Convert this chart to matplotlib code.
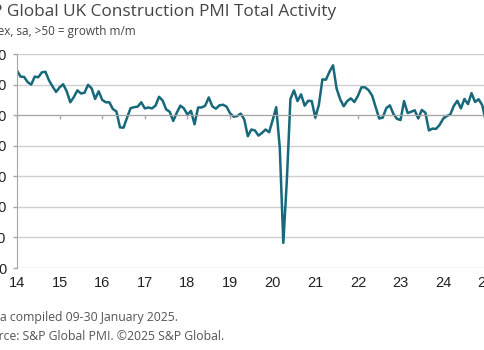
import matplotlib.pyplot as plt
import numpy as np

# monthly index values, Jan 2014 .. Jan 2025
pmi_2014 = [64.6, 62.6, 62.5, 60.8, 60.0, 62.6, 62.4, 64.0, 64.2, 61.4, 59.4, 57.6]
pmi_2015 = [59.1, 60.1, 57.8, 54.2, 55.9, 58.1, 57.1, 57.3, 59.9, 58.8, 55.3, 57.8]
pmi_2016 = [55.0, 54.2, 54.2, 52.0, 51.2, 46.0, 45.9, 49.2, 52.3, 52.6, 52.8, 54.2]
pmi_2017 = [52.2, 52.5, 52.2, 53.1, 56.0, 54.8, 51.9, 51.1, 48.1, 50.8, 53.1, 52.2]
pmi_2018 = [50.2, 51.4, 47.0, 52.5, 52.5, 53.1, 55.8, 52.9, 52.1, 53.2, 53.4, 52.8]
pmi_2019 = [50.6, 49.5, 49.7, 50.5, 48.6, 43.1, 45.3, 45.0, 43.3, 44.2, 45.3, 44.4]
pmi_2020 = [48.4, 52.6, 39.3, 8.2, 28.9, 55.3, 58.1, 54.6, 56.8, 53.1, 54.7, 54.6]
pmi_2021 = [49.2, 53.3, 61.7, 61.6, 64.2, 66.3, 58.7, 55.2, 52.9, 54.6, 55.5, 54.3]
pmi_2022 = [56.3, 59.1, 59.1, 58.2, 56.4, 52.6, 48.9, 49.2, 52.3, 53.2, 50.4, 48.8]
pmi_2023 = [48.4, 54.6, 50.7, 51.1, 51.6, 48.9, 51.7, 50.8, 45.0, 45.6, 45.5, 46.8]
pmi_2024 = [48.8, 49.7, 50.2, 53.0, 54.7, 52.2, 55.3, 53.6, 57.2, 54.3, 55.2, 53.3]
pmi_2025 = [48.1]

year_ticks = list(range(2014, 2026))
year_labels = [str(y)[2:] for y in year_ticks]
y_ticks = [0, 10, 20, 30, 40, 50, 60, 70]

values = np.array(pmi_2014 + pmi_2015 + pmi_2016 + pmi_2017 + pmi_2018 + pmi_2019
                  + pmi_2020 + pmi_2021 + pmi_2022 + pmi_2023 + pmi_2024 + pmi_2025)
months = 2014 + np.arange(len(values)) / 12

fig = plt.figure(figsize=(4.85, 3.5), dpi=100)
ax = fig.add_axes([17 / 485, 82 / 350, 473 / 485, 214 / 350])

ax.plot(months, values, color="#17687a", lw=1.8, solid_joinstyle="round")

ax.set_xlim(2014, 2025.1)
ax.set_ylim(0, 70)

ax.set_yticks(y_ticks)
ax.yaxis.grid(True, color="#cfcfcf", lw=1)
ax.set_axisbelow(True)
ax.tick_params(axis="y", length=3, width=1, color="#a6a6a6", pad=4.5,
               labelsize=10.5, labelcolor="#222222")

for s in ["top", "right"]:
    ax.spines[s].set_visible(False)
ax.spines["left"].set_color("#a6a6a6")
ax.spines["bottom"].set_position(("data", 50))
ax.spines["bottom"].set_color("#a6a6a6")

ax.set_xticks(year_ticks)
ax.tick_params(axis="x", length=3, width=1, color="#a6a6a6", labelbottom=False)

sec = ax.secondary_xaxis(0)
sec.set_xticks(year_ticks, year_labels)
sec.spines["bottom"].set_visible(False)
sec.tick_params(length=0, pad=6, labelsize=10.5, labelcolor="#222222")

for lab in ax.get_yticklabels() + sec.get_xticklabels():
    lab.set_fontfamily("Liberation Sans")

fig.text(336 / 485, 1 - 12 / 350, "S&P Global UK Construction PMI Total Activity",
         ha="right", va="center", fontsize=12.4, color="#444444", family="Open Sans")
fig.text(136 / 485, 1 - 31 / 350, "Index, sa, >50 = growth m/m",
         ha="right", va="center", fontsize=8.5, color="#444444", family="Open Sans")
fig.text(178 / 485, 1 - 318 / 350, "Data compiled 09-30 January 2025.",
         ha="right", va="center", fontsize=8.8, color="#555555", family="Open Sans")
fig.text(224 / 485, 1 - 337 / 350, "Source: S&P Global PMI. \u00a92025 S&P Global.",
         ha="right", va="center", fontsize=8.8, color="#555555", family="Open Sans")

fig.savefig("out.png", dpi=100)
